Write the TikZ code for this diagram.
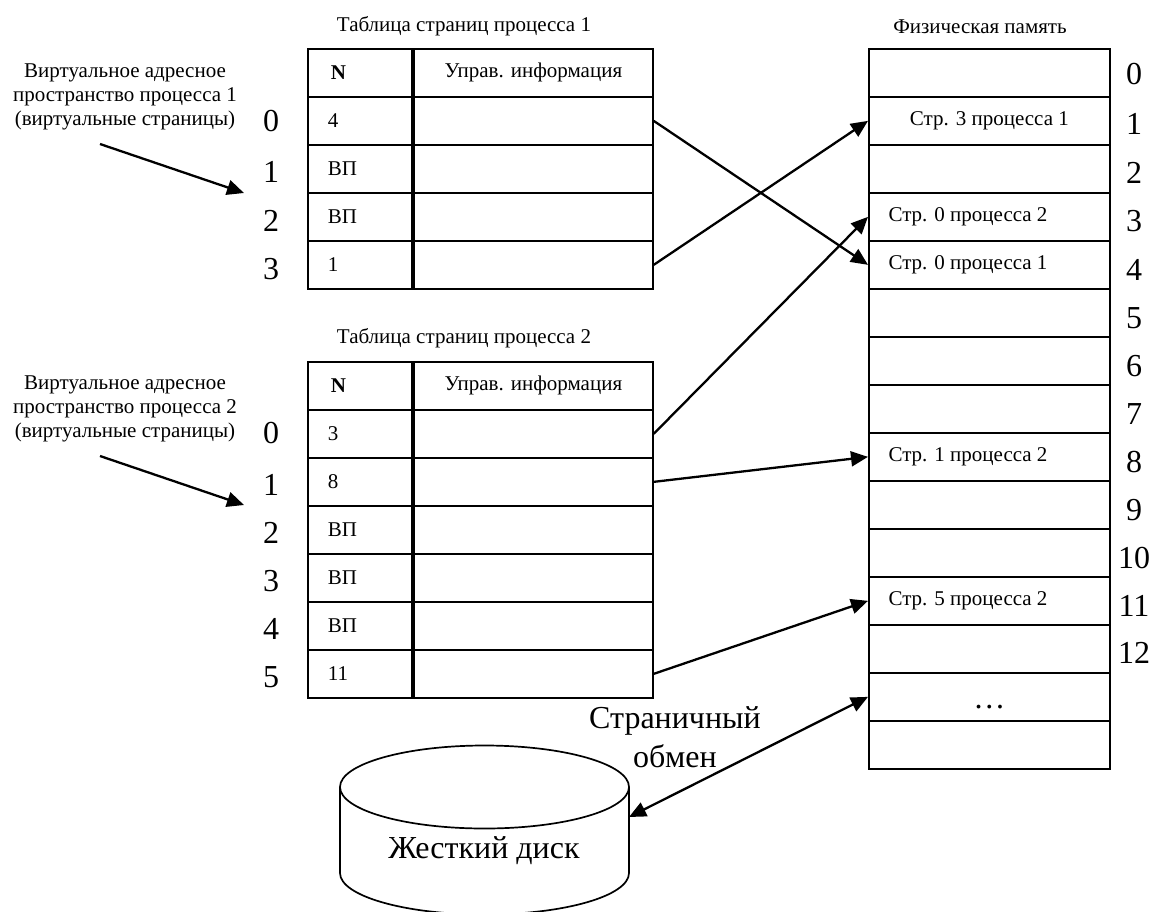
\documentclass[tikz,border=0pt]{standalone}
\usepackage{fontspec}
\setmainfont{Liberation Serif}
\usepackage{xcolor}
\usetikzlibrary{calc,arrows.meta}
\tikzset{
  base/.style={draw=black, line width=1.7pt},
  link/.style={draw=black, line width=2.3pt, -{Triangle[length=17pt,width=15pt]}},
  idx/.style={base, anchor=north west, minimum height=48pt, text width=64pt, inner xsep=20pt, inner ysep=0pt, align=left, font=\fontsize{21}{24}\selectfont},
  info/.style={base, anchor=north west, minimum width=239pt, minimum height=48pt, inner sep=0pt, font=\fontsize{21}{24}\selectfont},
  mem/.style={base, anchor=north west, minimum width=241pt, minimum height=48pt, inner sep=0pt},
  lab/.style={font=\fontsize{21}{24}\selectfont, align=center},
  big/.style={font=\fontsize{32}{39}\selectfont, align=center}
}
\begin{document}
\begin{tikzpicture}[x=1pt,y=-1pt]
  \clip (0,0) rectangle (1162,911);

  \node[lab] (title1) at (464,26) {Таблица страниц процесса 1};
  \node[idx] (pah) at (307,48) {\hspace*{3pt}\textbf{N}};
  \node[info] (pahi) at (413,48) {Управ. информация};
  \foreach \t [count=\i from 0] in {4,ВП,ВП,1}{
    \node[idx] (pa\i) at (307,96+48*\i) {\t};
    \node[info] (pai\i) at (413,96+48*\i) {};
  }
  \foreach \n/\y in {0/121,1/172,2/221,3/269}{
    \node[big] (pan\n) at (271,\y) {\n};
  }
  \node[lab] (vas1) at (125,97) {Виртуальное адресное\\пространство процесса 1\\(виртуальные страницы)};
  \coordinate (from1) at (100,144);
  \coordinate (to1) at (244,193);
  \draw[link] (from1) -- (to1);

  \node[lab] (title2) at (464,338) {Таблица страниц процесса 2};
  \node[idx] (pbh) at (307,361) {\hspace*{3pt}\textbf{N}};
  \node[info] (pbhi) at (413,361) {Управ. информация};
  \foreach \t [count=\i from 0] in {3,8,ВП,ВП,ВП,11}{
    \node[idx] (pb\i) at (307,409+48*\i) {\t};
    \node[info] (pbi\i) at (413,409+48*\i) {};
  }
  \foreach \n/\y in {0/433,1/485,2/533,3/581,4/629,5/677}{
    \node[big] (pbn\n) at (271,\y) {\n};
  }
  \node[lab] (vas2) at (125,409) {Виртуальное адресное\\пространство процесса 2\\(виртуальные страницы)};
  \coordinate (from2) at (100,456);
  \coordinate (to2) at (244,505);
  \draw[link] (from2) -- (to2);

  \node[lab] (title3) at (980,27) {Физическая память};
  \foreach \i in {0,...,14}{
    \node[mem] (mem\i) at (868,48+48*\i) {};
  }
  \foreach \i/\y in {0/74,1/124,2/173,3/221,4/270,5/318,6/366,7/414,8/462,9/510,10/558,11/606,12/653}{
    \node[big] (memn\i) at (1134,\y) {\i};
  }
  \node[lab] (str1) at (mem1) {Стр. 3 процесса 1};
  \node[lab,anchor=west] (str3) at ($(mem3.west)+(17,0)$) {Стр. 0 процесса 2};
  \node[lab,anchor=west] (str4) at ($(mem4.west)+(17,0)$) {Стр. 0 процесса 1};
  \node[lab,anchor=west] (str8) at ($(mem8.west)+(17,0)$) {Стр. 1 процесса 2};
  \node[lab,anchor=west] (str11) at ($(mem11.west)+(17,0)$) {Стр. 5 процесса 2};
  \node[big] (dots) at ($(mem13)+(0,10)$) {…};

  \draw[link] (pai0.east) -- (mem4.west);
  \draw[link] (pai3.east) -- (mem1.west);
  \draw[link] (pbi0.east) -- (mem3.west);
  \draw[link] (pbi1.east) -- (mem8.west);
  \draw[link] (pbi5.east) -- (mem11.west);

  \draw[base] (340,787) -- (340,873) arc[start angle=180,end angle=360,x radius=144.5,y radius=-41.5] -- (629,787);
  \draw[base] (484.5,787) ellipse [x radius=144.5,y radius=41.5];
  \node[big] (disk) at (484,851) {Жесткий диск};
  \coordinate (port) at (629,817);
  \draw[link,{Triangle[length=17pt,width=15pt]}-{Triangle[length=17pt,width=15pt]}] (port) -- (mem13.west);
  \node[big] (swap) at (675,737) {Страничный\\обмен};
\end{tikzpicture}
\end{document}
